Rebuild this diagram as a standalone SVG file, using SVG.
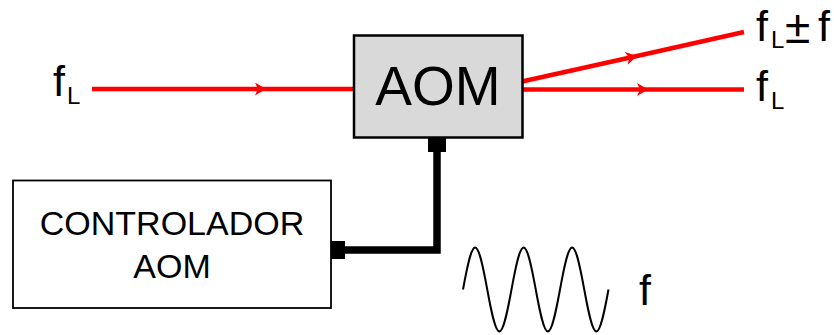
<svg xmlns="http://www.w3.org/2000/svg" width="834" height="335" viewBox="0 0 834 335">
<style>
.lbl{font-family:"Liberation Sans",Arial,sans-serif;fill:#000}
.beam{fill:none;stroke:#ff0000;stroke-width:4.5;marker-mid:url(#arr)}
</style>
<defs>
<marker id="arr" markerUnits="userSpaceOnUse" markerWidth="14" markerHeight="14" refX="11" refY="6.5" orient="auto">
<path d="M0,0 L11,6.5 L0,13 L3,6.5 Z" fill="#ff0000"/>
</marker>
</defs>
<g id="connectors">
<path class="beam" d="M92 89 L266 89 L355 89"/>
<path class="beam" d="M522 81.5 L637 56 L744 32"/>
<path class="beam" d="M522 89.5 L648 89.5 L744 89.5"/>
<path d="M345 250 H437 V150" fill="none" stroke="#000" stroke-width="7.5"/>
</g>
<g id="aom">
<rect x="354" y="35.5" width="168.5" height="102" fill="#d9d9d9" stroke="#000" stroke-width="2.5"/>
<rect x="428" y="137" width="18" height="15" fill="#000"/>
<text class="lbl" x="438" y="105" font-size="55" text-anchor="middle">AOM</text>
</g>
<g id="controlador">
<rect x="13" y="180.5" width="318" height="127.5" fill="#fff" stroke="#000" stroke-width="1.8"/>
<rect x="331" y="241" width="14" height="18" fill="#000"/>
<text class="lbl" x="172" y="235" font-size="34" text-anchor="middle">CONTROLADOR</text>
<text class="lbl" x="172" y="278" font-size="34" text-anchor="middle">AOM</text>
</g>
<g id="label-in">
<text class="lbl" x="53" y="96" font-size="43">f</text>
<text class="lbl" x="67" y="104" font-size="24">L</text>
</g>
<g id="label-out1">
<text class="lbl" x="756" y="41" font-size="43">f</text>
<text class="lbl" x="771" y="48" font-size="24">L</text>
<text class="lbl" x="785" y="43" font-size="46">±</text>
<text class="lbl" x="818" y="41" font-size="43">f</text>
</g>
<g id="label-out0">
<text class="lbl" x="756" y="101" font-size="43">f</text>
<text class="lbl" x="771" y="109" font-size="24">L</text>
</g>
<g id="wave">
<path d="M463 289.5 c3.954 -21.52 7.907 -42 12.125 -42 s8.171 20.48 12.125 42 s7.907 42 12.125 42 s8.171 -20.48 12.125 -42 s7.907 -42 12.125 -42 s8.171 20.48 12.125 42 s7.907 42 12.125 42 s8.171 -20.48 12.125 -42 s7.907 -42 12.125 -42 s8.171 20.48 12.125 42 s7.907 42 12.125 42 s8.171 -20.48 12.125 -42" fill="none" stroke="#000" stroke-width="2"/>
<text class="lbl" x="639" y="305" font-size="43">f</text>
</g>
</svg>
